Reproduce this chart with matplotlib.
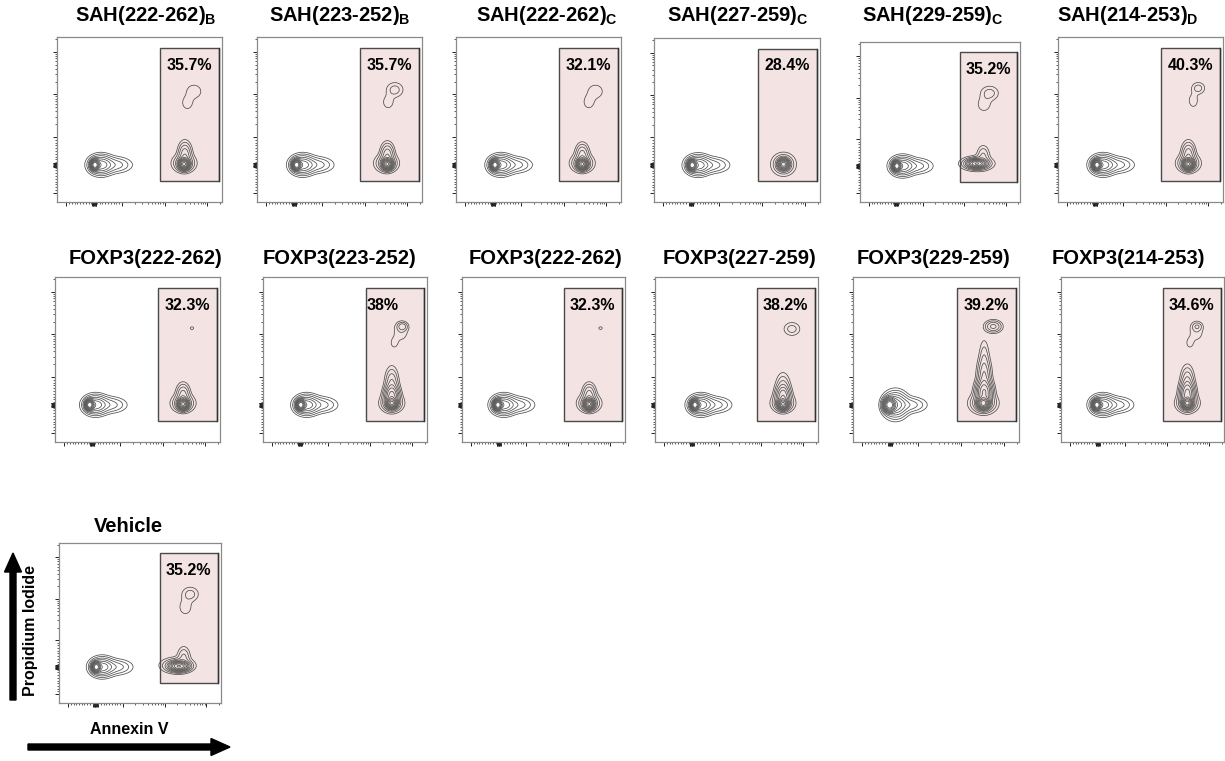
import numpy as np
import matplotlib.pyplot as plt
from matplotlib.patches import Rectangle

plt.rcParams['font.family'] = ['Liberation Sans', 'DejaVu Sans']
plt.rcParams['mathtext.fontset'] = 'custom'
plt.rcParams['mathtext.rm'] = 'Liberation Sans'
plt.rcParams['mathtext.bf'] = 'Liberation Sans:bold'

# ---- data ----
titles = [r'SAH(222-262)$_\mathbf{B}$', r'SAH(223-252)$_\mathbf{B}$', r'SAH(222-262)$_\mathbf{C}$',
          r'SAH(227-259)$_\mathbf{C}$', r'SAH(229-259)$_\mathbf{C}$', r'SAH(214-253)$_\mathbf{D}$',
          'FOXP3(222-262)', 'FOXP3(223-252)', 'FOXP3(222-262)', 'FOXP3(227-259)',
          'FOXP3(229-259)', 'FOXP3(214-253)', 'Vehicle']
pct = ['35.7%', '35.7%', '32.1%', '28.4%', '35.2%', '40.3%',
       '32.3%', '38%', '32.3%', '38.2%', '39.2%', '34.6%', '35.2%']

# live population (Annexin- PI-) centre, display units
live_x = [0.23, 0.24, 0.236, 0.23, 0.23, 0.236, 0.21, 0.23, 0.22, 0.245, 0.22, 0.22, 0.23]
live_y = [0.225] * 13
live_size = [1.0] * 10 + [1.35, 1.0, 1.0]

# Annexin+ PI- populations: (amp, x, y, sx, sy)
low_pops = [
    [(0.75, 0.77, 0.23, 0.016, 0.016), (0.06, 0.77, 0.235, 0.037, 0.029), (0.07, 0.775, 0.29, 0.022, 0.04)],
    [(0.75, 0.79, 0.23, 0.016, 0.016), (0.06, 0.785, 0.235, 0.037, 0.029), (0.07, 0.79, 0.29, 0.022, 0.037)],
    [(0.75, 0.765, 0.23, 0.016, 0.016), (0.06, 0.765, 0.235, 0.037, 0.029), (0.06, 0.765, 0.29, 0.022, 0.035)],
    [(0.6, 0.78, 0.23, 0.017, 0.017), (0.05, 0.78, 0.23, 0.038, 0.036)],
    [(0.5, 0.73, 0.24, 0.03, 0.014), (0.05, 0.73, 0.24, 0.055, 0.024), (0.03, 0.77, 0.29, 0.022, 0.035)],
    [(0.75, 0.79, 0.23, 0.016, 0.016), (0.06, 0.79, 0.235, 0.037, 0.029), (0.07, 0.79, 0.29, 0.022, 0.04)],
    [(0.75, 0.776, 0.23, 0.016, 0.016), (0.06, 0.776, 0.235, 0.037, 0.029), (0.06, 0.776, 0.29, 0.022, 0.035)],
    [(0.7, 0.785, 0.235, 0.016, 0.016), (0.06, 0.785, 0.235, 0.037, 0.029), (0.2, 0.785, 0.28, 0.024, 0.035),
     (0.05, 0.785, 0.36, 0.022, 0.05)],
    [(0.75, 0.78, 0.23, 0.016, 0.016), (0.06, 0.78, 0.235, 0.037, 0.029), (0.06, 0.78, 0.29, 0.022, 0.035)],
    [(0.7, 0.785, 0.23, 0.016, 0.016), (0.06, 0.785, 0.235, 0.037, 0.029), (0.15, 0.785, 0.28, 0.024, 0.035),
     (0.03, 0.785, 0.34, 0.024, 0.045)],
    [(0.8, 0.785, 0.235, 0.018, 0.018), (0.08, 0.785, 0.235, 0.042, 0.032), (0.25, 0.79, 0.30, 0.026, 0.04),
     (0.08, 0.79, 0.40, 0.022, 0.06), (0.02, 0.79, 0.52, 0.017, 0.06)],
    [(0.75, 0.775, 0.235, 0.016, 0.016), (0.06, 0.775, 0.235, 0.037, 0.029), (0.2, 0.775, 0.29, 0.024, 0.04),
     (0.05, 0.775, 0.37, 0.022, 0.05)],
    [(0.5, 0.74, 0.23, 0.03, 0.015), (0.05, 0.73, 0.235, 0.055, 0.026), (0.03, 0.77, 0.29, 0.022, 0.035)],
]

# Annexin+ PI+ populations
high_pops = [
    [(0.012, 0.83, 0.67, 0.035, 0.032), (0.011, 0.79, 0.60, 0.025, 0.03)],
    [(0.02, 0.835, 0.68, 0.032, 0.028), (0.011, 0.795, 0.605, 0.025, 0.03)],
    [(0.012, 0.845, 0.67, 0.035, 0.032), (0.011, 0.805, 0.605, 0.025, 0.03)],
    [],
    [(0.02, 0.81, 0.68, 0.035, 0.028), (0.012, 0.775, 0.61, 0.03, 0.032)],
    [(0.02, 0.85, 0.69, 0.025, 0.022), (0.011, 0.82, 0.615, 0.022, 0.032)],
    [(0.0075, 0.83, 0.69, 0.015, 0.012)],
    [(0.04, 0.85, 0.70, 0.018, 0.015), (0.012, 0.84, 0.67, 0.032, 0.04), (0.009, 0.80, 0.60, 0.018, 0.025)],
    [(0.0075, 0.85, 0.69, 0.015, 0.012)],
    [(0.02, 0.84, 0.685, 0.031, 0.025)],
    [(0.06, 0.845, 0.70, 0.028, 0.02)],
    [(0.025, 0.835, 0.70, 0.018, 0.015), (0.012, 0.83, 0.67, 0.03, 0.04), (0.009, 0.79, 0.60, 0.018, 0.025)],
    [(0.02, 0.81, 0.68, 0.032, 0.028), (0.012, 0.78, 0.60, 0.028, 0.035)],
]

gate_x = [0.625, 0.98]
gate_y = [0.128, 0.935]

# ---- layout (pixels: left, top, width, height) ----
frames = [(57, 37, 165, 165), (257, 37, 165, 165), (456, 37, 165, 165), (654, 38, 166, 164),
          (860, 42, 160, 160), (1058, 37, 165, 165),
          (55, 277, 165, 165), (263, 277, 164, 165), (462, 277, 163, 165), (655, 277, 163, 165),
          (853, 277, 166, 165), (1061, 277, 163, 165),
          (59, 543, 162, 160)]
title_pos = [(146, 21), (340, 21), (547, 21), (738, 21), (933, 21), (1128, 21),
             (145, 264), (340, 264), (546, 264), (739, 264), (933, 264), (1128, 264),
             (128, 532)]
label_x = [0.80] * 7 + [0.73] + [0.80] * 5

W, H = 1225, 761
fig = plt.figure(figsize=(W / 100, H / 100), dpi=100)

over = fig.add_axes([0, 0, 1, 1])
over.set_xlim(0, W)
over.set_ylim(H, 0)
over.axis('off')


def to_disp(v):
    v = np.asarray(v, float)
    lin = 0.225 + v / 1000 * 0.169
    lg = 0.394 + np.log10(np.maximum(v, 1e3) / 1e3) * 0.258
    return np.where(v <= 1000, lin, lg)


major_vals = [-1000, -75, -50, -25, 0, 25, 50, 75, 1000, 1e4, 1e5]
minor_vals = [k * 100 for k in range(-9, 10) if k != 0] + \
             [k * 10 ** n for n in (3, 4) for k in range(2, 10)] + [2e5]

g = np.linspace(0, 1, 500)
X, Y = np.meshgrid(g, g)
levels = [0.006, 0.014, 0.028, 0.05, 0.08, 0.12, 0.18, 0.26, 0.37, 0.52, 0.72]


def density(comps):
    Z = np.zeros_like(X)
    for a, cx, cy, sx, sy in comps:
        Z += a * np.exp(-((X - cx) ** 2 / (2 * sx ** 2) + (Y - cy) ** 2 / (2 * sy ** 2)))
    return Z


for i in range(13):
    l, t, w, h = frames[i]
    ax = fig.add_axes([l / W, (H - t - h) / H, w / W, h / H])
    ax.set_xlim(0, 1)
    ax.set_ylim(0, 1)

    ax.add_patch(Rectangle((gate_x[0], gate_y[0]), gate_x[1] - gate_x[0], gate_y[1] - gate_y[0],
                           facecolor='#f3e4e3', edgecolor='#4a4a4a', lw=1.0, zorder=1))
    ax.plot([gate_x[1] + 0.004] * 2, gate_y, color='#333', lw=1.0, zorder=1)

    lx, ly, s = live_x[i], live_y[i], live_size[i]
    live = [(1.0, lx, ly, 0.013 * s, 0.015 * s), (0.15, lx + 0.035, ly, 0.038, 0.03 * s),
            (0.04, lx + 0.12, ly, 0.055, 0.026)]
    Z = density(live + low_pops[i] + high_pops[i])
    ax.contour(X, Y, Z, levels=levels, colors='#4d4d4d', linewidths=0.55, zorder=2)

    ax.text(label_x[i], 0.83, pct[i], ha='center', va='center', fontsize=11.5,
            fontweight='bold', zorder=3)

    ax.set_xticks(to_disp(major_vals))
    ax.set_xticks(to_disp(minor_vals), minor=True)
    ax.set_yticks(to_disp(major_vals))
    ax.set_yticks(to_disp(minor_vals), minor=True)
    ax.tick_params(which='major', length=3.2, width=0.7, color='#222', direction='out')
    ax.tick_params(which='minor', length=1.6, width=0.6, color='#444', direction='out')
    ax.tick_params(labelbottom=False, labelleft=False)
    for sp in ax.spines.values():
        sp.set_color('#8a8a8a')
        sp.set_linewidth(0.9)

    tx, ty = title_pos[i]
    over.text(tx, ty, titles[i], ha='center', va='baseline', fontsize=14.5, fontweight='bold')

over.text(31, 630, 'Propidium Iodide', rotation=90, ha='center', va='center',
          fontsize=11.5, fontweight='bold')
over.text(129, 729, 'Annexin V', ha='center', va='center', fontsize=11.5, fontweight='bold')
over.arrow(13, 700, 0, -147, width=6, head_width=17, head_length=19,
           length_includes_head=True, fc='k', ec='k')
over.arrow(28, 747, 202, 0, width=6, head_width=17, head_length=19,
           length_includes_head=True, fc='k', ec='k')

fig.savefig('out.png', dpi=100)
